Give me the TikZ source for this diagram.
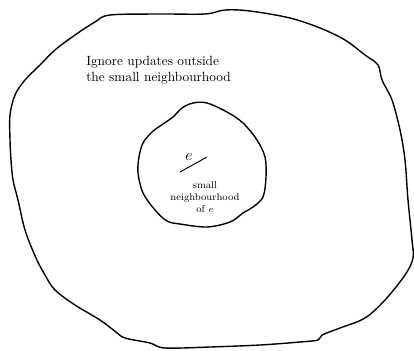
\documentclass[tikz,border=0pt]{standalone}
\usepackage{amsmath,amssymb}
\usepackage{tikz}
\usetikzlibrary{positioning}

\begin{document}
\begin{tikzpicture}[
    x=0.75pt, y=-0.75pt,
    blob/.style={draw=black, line width=1.05pt, line join=round},
    lbl/.style={align=left, font=\normalsize, inner sep=0pt},
    small/.style={align=center, font=\fontsize{7.5}{9}\selectfont, inner sep=0pt},
]
    \useasboundingbox (0,0) rectangle (414,350);

    % outer region
    \draw[blob] plot[smooth cycle, tension=0.55] coordinates {
        (110,15) (160,14) (205,14) (225,10) (250,11) (290,18) (320,28)
        (345,40) (365,55) (378,65) (382,80) (392,100) (400,130) (405,160)
        (408,200) (412,240) (413,258) (405,275) (385,300) (365,318)
        (340,328) (322,335) (318,340) (300,342) (260,345) (210,347)
        (165,348) (150,343) (125,338) (116,332) (100,320) (75,305)
        (55,290) (45,275) (36,258) (25,230) (18,200) (13,180) (11,160)
        (10,140) (10,115) (15,95) (25,80) (40,65) (55,50) (75,35) (95,22)
    };

    % inner region
    \draw[blob] plot[smooth cycle, tension=0.55] coordinates {
        (173,117) (182,108) (193,103) (207,103) (227,112) (243,123)
        (257,140) (265,157) (266,177) (263,197) (253,207) (243,213)
        (230,222) (207,227) (180,224) (167,221) (155,210) (143,193)
        (138,173) (139,157) (143,143) (152,132) (163,124)
    };

    % labels
    \node[lbl, anchor=north west] (ignore) at (86,56)
        {Ignore updates outside\\the small neighbourhood};
    \node[font=\large, inner sep=0pt] (elbl) at (189,157) {$e$};
    \draw[line width=0.7pt] (180,172) -- (207,157);
    \node[small, anchor=north] (nbhd) at (205,181)
        {small\\neighbourhood\\of $e$};
\end{tikzpicture}
\end{document}
